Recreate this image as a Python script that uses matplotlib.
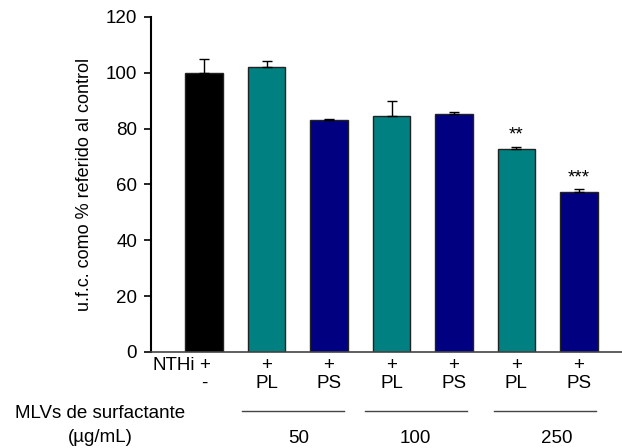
import numpy as np
import matplotlib.pyplot as plt

plt.rcParams['font.family'] = ['Liberation Sans', 'DejaVu Sans']

# data
values = [100.0, 102.0, 83.1, 84.6, 85.3, 72.6, 57.2]
errors = [5.0, 2.2, 0.3, 5.4, 0.8, 1.0, 1.1]
colors = ['#000000', '#008080', '#000080', '#008080', '#000080', '#008080', '#000080']
nthi_row = ['+', '+', '+', '+', '+', '+', '+']
mlv_row = ['-', 'PL', 'PS', 'PL', 'PS', 'PL', 'PS']
signif = ['', '', '', '', '', '**', '***']
dose_labels = ['50', '100', '250']
dose_pos = [1.51, 3.38, 5.64]
dose_spans = [(0.6, 2.24), (2.58, 4.21), (4.64, 6.28)]

FS = 13.5

fig = plt.figure(figsize=(6.22, 4.48), dpi=100)
ax = fig.add_axes([0.2428, 0.2143, 0.7572, 0.7478])

x = np.arange(len(values))
ax.bar(x, values, width=0.6, color=colors, edgecolor='#222222', linewidth=1.0, zorder=2)
ax.errorbar(x, values, yerr=[np.zeros(len(errors)), errors], fmt='none',
            ecolor='black', elinewidth=1.0, capsize=3.6, capthick=1.0, zorder=3)

for xi, v, e, s in zip(x, values, errors, signif):
    if s:
        ax.text(xi, v + e + 1.0, s, ha='center', va='bottom', fontsize=FS)

ax.set_xlim(-0.85, 6.69)
ax.set_ylim(0, 120)
ax.set_yticks([0, 20, 40, 60, 80, 100, 120])
ax.set_xticks([])
ax.tick_params(axis='y', labelsize=FS, length=5, width=1.2, direction='out', pad=5)
ax.spines['top'].set_visible(False)
ax.spines['right'].set_visible(False)
ax.spines['left'].set_linewidth(1.5)
ax.spines['bottom'].set_linewidth(1.2)
ax.spines['bottom'].set_color('#444444')
ax.set_ylabel('u.f.c. como % referido al control', fontsize=13, labelpad=9)

trans = ax.get_xaxis_transform()
ax.text(-0.15, -0.039, 'NTHi', transform=trans, ha='right', va='center', fontsize=FS)
for xi, a, b in zip(x, nthi_row, mlv_row):
    ax.text(xi, -0.039, a, transform=trans, ha='center', va='center', fontsize=FS)
    ax.text(xi, -0.093, b, transform=trans, ha='center', va='center', fontsize=FS)

for (x0, x1), lab, p in zip(dose_spans, dose_labels, dose_pos):
    ax.plot([x0, x1], [-0.176, -0.176], transform=trans, color='#444444',
            linewidth=1.0, clip_on=False)
    ax.text(p, -0.257, lab, transform=trans, ha='center', va='center', fontsize=FS)

fig.text(100 / 622, 1 - 413 / 448, 'MLVs de surfactante', ha='center', va='center', fontsize=FS)
fig.text(100 / 622, 1 - 437 / 448, '(\u00b5g/mL)', ha='center', va='center', fontsize=FS)

fig.savefig('out.png', dpi=100)
